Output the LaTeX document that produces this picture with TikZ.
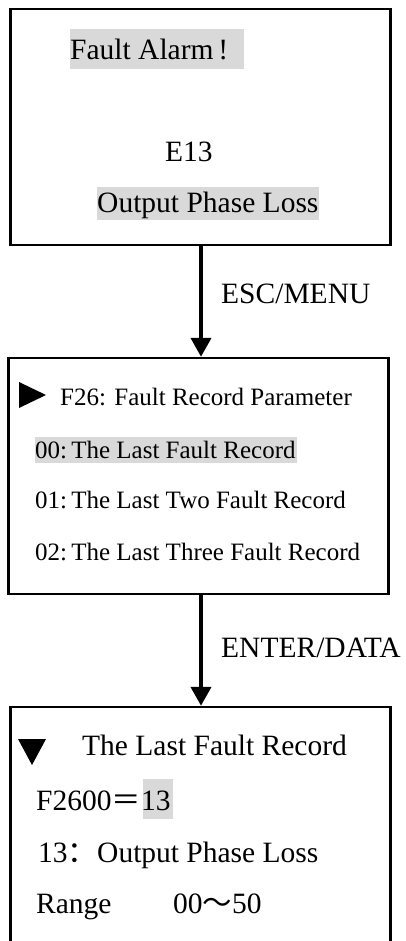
\documentclass[tikz,border=0pt]{standalone}
\usepackage{fontspec}
\setmainfont{Liberation Serif}
\newfontfamily\cjk{Noto Sans CJK SC}
\usetikzlibrary{arrows.meta}
\definecolor{hl}{HTML}{D9D9D9}
\tikzset{
  screen/.style={draw=black, line width=2.4pt, fill=none, inner sep=0pt},
  big/.style={inner sep=0pt, anchor=base west, font=\fontsize{29.5}{34}\selectfont},
  small/.style={inner sep=0pt, anchor=base west, font=\fontsize{25}{30}\selectfont},
  flow/.style={line width=4pt, -{Triangle[width=20pt,length=19pt]}},
  hlbox/.style={fill=hl, draw=none},
  cursor/.style={fill=black, draw=none}
}
\begin{document}
\begin{tikzpicture}[x=1pt,y=-1pt]
\useasboundingbox (0,0) rectangle (406,941);
% screens
\node[screen, minimum width=380pt, minimum height=236pt] (s1) at (200.5,127) {};
\node[screen, minimum width=380pt, minimum height=236pt] (s2) at (198.5,476) {};
\node[screen, minimum width=380pt, minimum height=260pt] (s3) at (200.5,837) {};
% highlights
\fill[hlbox] (70,29) rectangle (244,69);
\fill[hlbox] (97,187) rectangle (319,220);
\fill[hlbox] (35,437) rectangle (297,463);
\fill[hlbox] (143,779) rectangle (173,819);
% screen 1 text
\node[big] (t1) at (70,60) {Fault Alarm\,!};
\node[big] (t2) at (165,162) {E13};
\node[big] (t3) at (97,212) {Output Phase Loss};
% connectors
\coordinate (a1) at (201,0);
\draw[flow] (s1.south -| a1) -- (s2.north -| a1);
\node[big] (l1) at (221,303) {ESC/MENU};
\draw[flow] (s2.south -| a1) -- (s3.north -| a1);
\node[big] (l2) at (221,657) {ENTER/DATA};
% screen 2 text
\fill[cursor] (19,382) -- (19,408) -- (46,395) -- cycle;
\node[small] (m0) at (60,405) {F26: Fault Record Parameter};
\node[small] (m1) at (35,458) {00:\,The Last Fault Record};
\node[small] (m2) at (35,508) {01:\,The Last Two Fault Record};
\node[small] (m3) at (35,560) {02:\,The Last Three Fault Record};
% screen 3 text
\fill[cursor] (18,739) -- (46,739) -- (32,765) -- cycle;
\node[big] (r0) at (82,755) {The Last Fault Record};
\node[big] (r1) at (36,810) {F2600{\cjk ＝}13};
\node[big] (r2) at (38,862) {13{\cjk ：}Output Phase Loss};
\node[big] (r3) at (36,913) {Range};
\node[big] (r4) at (173,913) {00{\cjk ～}50};
\end{tikzpicture}
\end{document}
